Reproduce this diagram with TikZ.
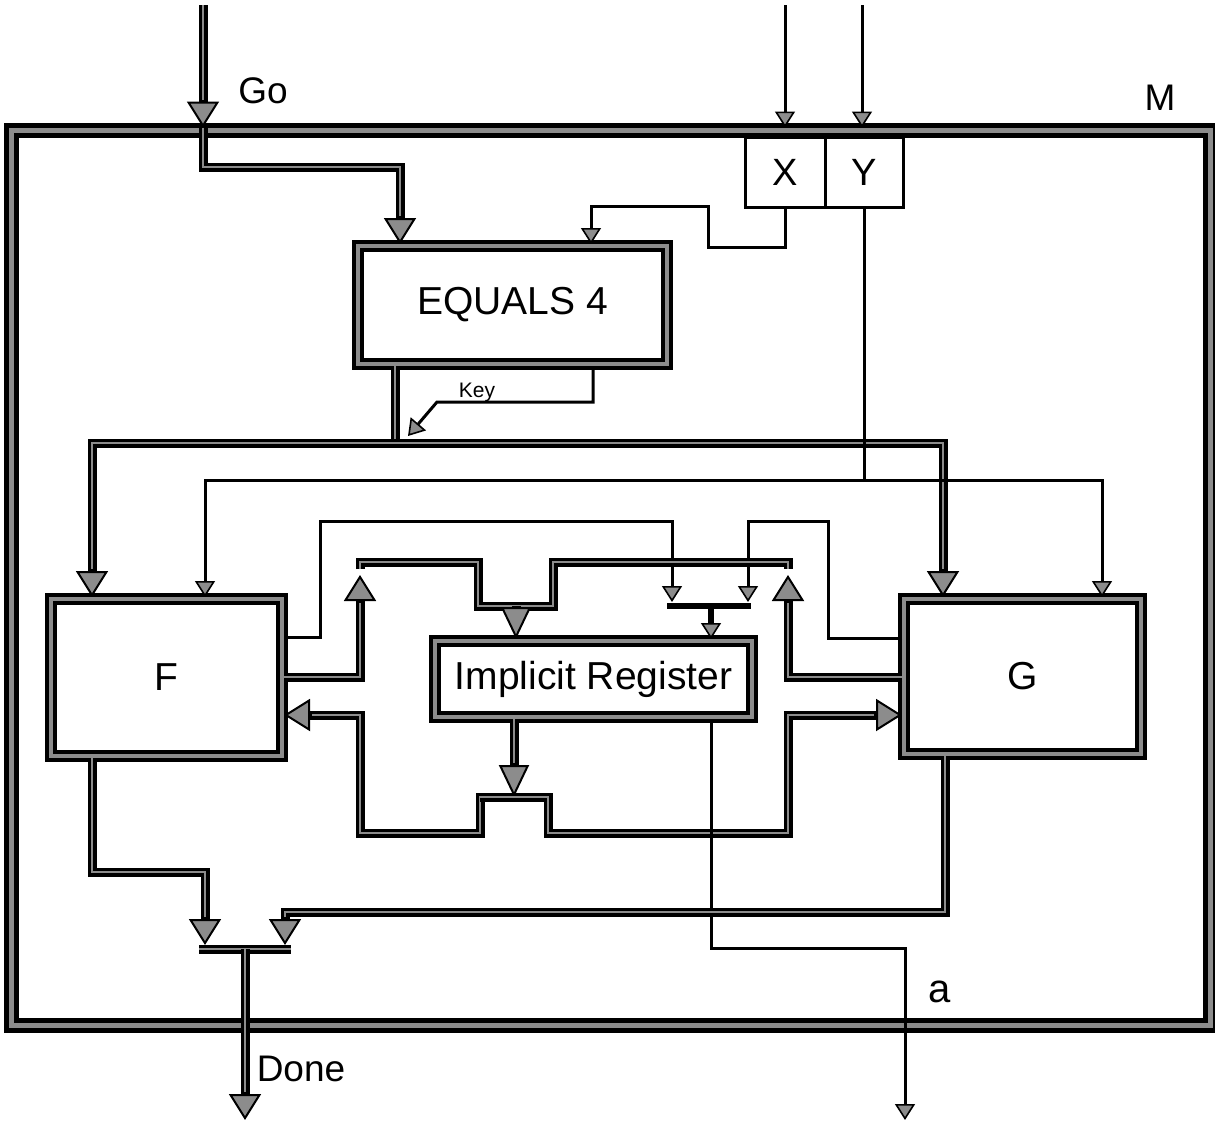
\documentclass[tikz,border=0pt]{standalone}
\usepackage{fontspec}
\setmainfont{Liberation Sans}
\usetikzlibrary{arrows.meta}
\colorlet{spk}{black!45}
\colorlet{tipfill}{black!45}
\tikzset{
  bigT/.tip={Triangle[width=16pt,length=13pt,fill=tipfill,line width=1pt]},
  irT/.tip={Triangle[width=15pt,length=16pt,fill=tipfill,line width=1pt]},
  smT/.tip={Triangle[width=10pt,length=8pt,fill=tipfill,line width=0.8pt]},
  busplain/.style={draw=black,line width=4.5pt,line join=miter,
    postaction={draw=spk,line width=1pt,-}},
  bus/.style={draw=black,line width=4.5pt,line join=miter,
    postaction={draw=spk,line width=1pt,-,shorten >=14pt}},
  busir/.style={draw=black,line width=4.5pt,line join=miter,
    postaction={draw=spk,line width=1pt,-,shorten >=17pt}},
  medln/.style={draw=black,line width=3pt},
  thinln/.style={draw=black,line width=1.5pt,line join=miter},
  box/.style={draw=black,line width=2pt,double=spk,double distance=2pt,
    fill=white,inner sep=0pt,font=\fontsize{19.5}{23}\selectfont},
  outerbox/.style={draw=black,line width=2.5pt,double=spk,double distance=2.5pt,inner sep=0pt},
  regbox/.style={draw=black,line width=1.5pt,fill=white,inner sep=0pt,font=\fontsize{19}{23}\selectfont},
  lbl/.style={font=\fontsize{18.5}{22}\selectfont,anchor=base,inner sep=0pt},
}
\begin{document}
\begin{tikzpicture}[x=0.5pt,y=-0.5pt]
\useasboundingbox (0,0) rectangle (1215,1124);

% outer module
\node[outerbox,minimum width=599.5pt,minimum height=447.5pt] (M) at (610.5,577.5) {};
\node[lbl] (ML) at (1160,110) {M};

% registers X, Y
\node[regbox,minimum width=40pt,minimum height=35pt] (X) at (785,172) {X};
\node[regbox,minimum width=39pt,minimum height=35pt] (Y) at (864,172) {Y};

% boxes
\node[box,minimum width=154.5pt,minimum height=59pt] (EQ) at (512.5,305) {EQUALS 4};
\node[box,minimum width=115.5pt,minimum height=78.5pt] (F) at (166.5,677.5) {F};
\node[box,minimum width=118.5pt,minimum height=77.5pt] (G) at (1022.5,676.5) {G};
\node[box,minimum width=158.5pt,minimum height=38pt] (IR) at (593.5,679) {Implicit Register};

% coordinates
\coordinate (go0) at (203,5);
\coordinate (g1) at (203,167);
\coordinate (g2) at (400,167);
\coordinate (x0) at (785,5);
\coordinate (y0) at (862,5);
\coordinate (xa) at (708,247);
\coordinate (xb) at (591,206);
\coordinate (e1) at (395,443);
\coordinate (b1) at (92,443);
\coordinate (b2) at (943,443);
\coordinate (k0) at (593,402);
\coordinate (k1) at (437,402);
\coordinate (k2) at (408,436);
\coordinate (t1) at (205,480);
\coordinate (t2) at (1102,480);
\coordinate (fo) at (320,637);
\coordinate (c1) at (320,521);
\coordinate (ma) at (672,602);
\coordinate (gout) at (828,638);
\coordinate (c3) at (828,521);
\coordinate (mb) at (748,602);
\coordinate (mL) at (667,606);
\coordinate (mR) at (751,606);
\coordinate (mC) at (711,606);
\coordinate (fr) at (360,677);
\coordinate (ua) at (360,575);
\coordinate (gr) at (788,677);
\coordinate (ub) at (788,575);
\coordinate (dip) at (516,606);
\coordinate (lo) at (514,797);
\coordinate (fl) at (360,715);
\coordinate (gl) at (788,715);
\coordinate (a1) at (711,948);
\coordinate (a2) at (905,948);
\coordinate (a3) at (905,1120);
\coordinate (fb1) at (92,872);
\coordinate (fb2) at (205,872);
\coordinate (fb3) at (205,945);
\coordinate (gb1) at (945,912);
\coordinate (gb2) at (285,912);
\coordinate (gb3) at (285,945);
\coordinate (dL) at (199,949);
\coordinate (dR) at (291,949);
\coordinate (dC) at (245,949);
\coordinate (dE) at (245,1120);

% Go
\draw[bus,-bigT] (go0) -- (go0 |- M.north);
\node[lbl] (goL) at (263,103) {Go};
\draw[bus,-bigT] (M.north -| go0) -- (g1) -- (g2) -- (g2 |- EQ.north);

% X, Y inputs
\draw[thinln,-smT] (x0) -- (x0 |- M.north);
\draw[thinln,-smT] (y0) -- (y0 |- M.north);

% X output to EQUALS
\draw[thinln,-smT] (X.south) |- (xa) |- (xb) -- (xb |- EQ.north);

% EQUALS output bus
\draw[busplain] (EQ.south -| e1) -- (e1);
\draw[bus,-bigT] (e1) -| (b1 |- F.north);
\draw[bus,-bigT] (e1) -| (b2 |- G.north);

% Key
\draw[thinln,-smT] (EQ.south -| k0) -- (k0) -- (k1) -- (k2);
\node[font=\fontsize{10.5}{12}\selectfont,anchor=base,inner sep=0pt] (keyL) at (477,397) {Key};

% Y output
\draw[thinln,-smT] (Y.south) |- (t1) -- (t1 |- F.north);
\draw[thinln,-smT] (Y.south) |- (t2) -- (t2 |- G.north);

% thin lines F/G to merge bar
\draw[thinln,-smT] (fo -| F.east) -| (c1) -| (ma);
\draw[thinln,-smT] (gout -| G.west) -| (c3) -| (mb);
\draw[medln] (mL) -- (mR);
\draw[medln,-smT] (mC) -- (mC |- IR.north);

% upper bus into Implicit Register
\draw[bus,-bigT] (fr -| F.east) -| (ua);
\draw[bus,-bigT] (gr -| G.west) -| (ub);
\draw[busplain] (360,569) -- (360,562) -- (478,562) -- (478,606) -- (553,606) -- (553,562) -- (788,562) -- (788,569);
\draw[busir,-irT] (dip) -- (dip |- IR.north);

% lower bus out of Implicit Register
\draw[busir,-irT] (IR.south -| lo) -- (lo);
\draw[bus,-bigT] (548,797) -- (480,797) -- (480,833) -| (fl) -- (fl -| F.east);
\draw[bus,-bigT] (480,797) -- (548,797) -- (548,833) -| (gl) -- (gl -| G.west);

% a output
\draw[thinln,-smT] (IR.south -| a1) -- (a1) -- (a2) -- (a3);
\node[lbl,font=\fontsize{20}{24}\selectfont] (aL) at (940,1002) {a};

% Done
\draw[bus,-bigT] (F.south -| fb1) -- (fb1) -- (fb2) -- (fb3);
\draw[bus,-bigT] (G.south -| gb1) -- (gb1) -- (gb2) -- (gb3);
\draw[busplain] (dL) -- (dR);
\draw[bus,-bigT] (dC) -- (dE);
\node[lbl] (doneL) at (301,1081) {Done};
\end{tikzpicture}
\end{document}
